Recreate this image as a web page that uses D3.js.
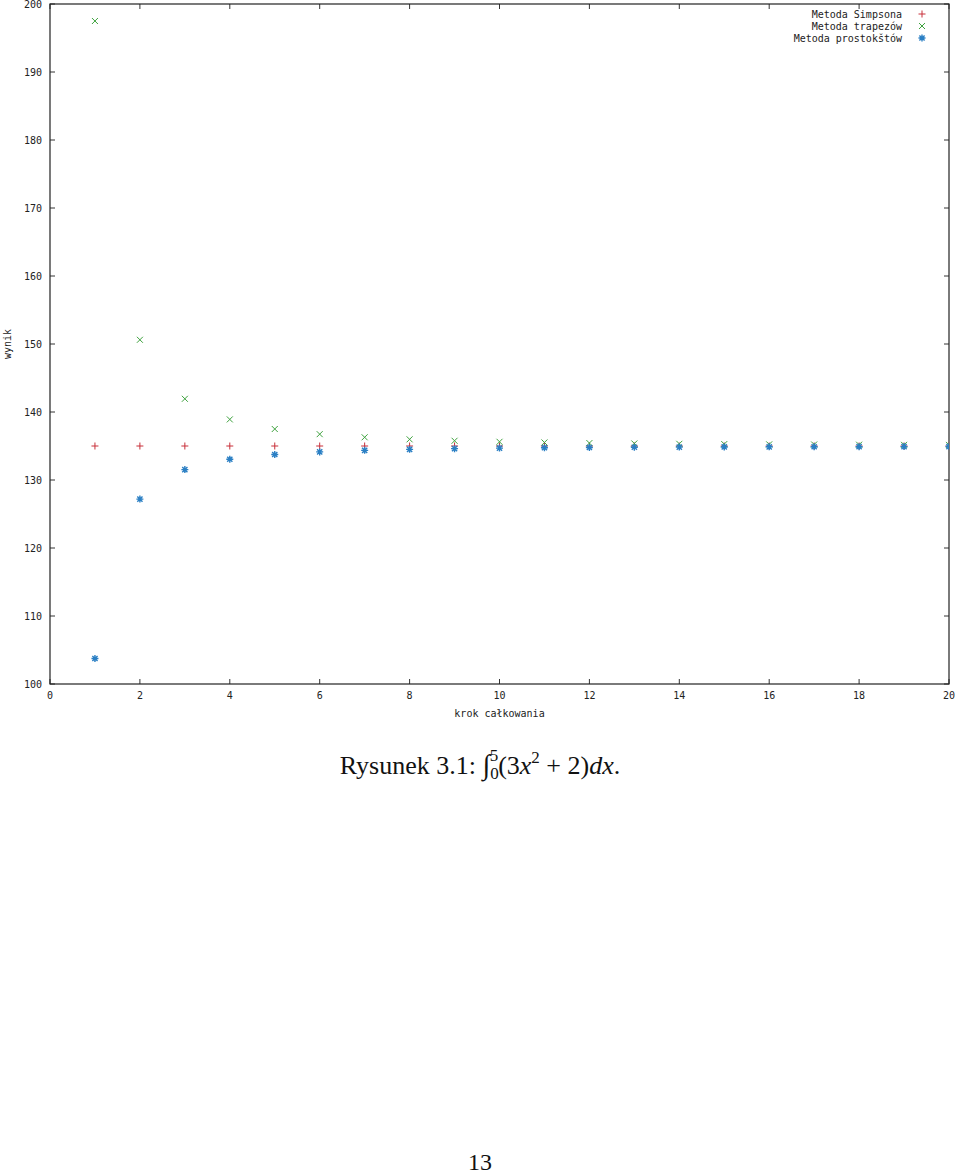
<!DOCTYPE html>
<html><head><meta charset="utf-8">
<script src="https://cdn.jsdelivr.net/npm/d3@7"></script>
<style>
body{margin:0;background:#fff;}
svg{display:block;}
.tk{font-family:"DejaVu Sans Mono",monospace;font-size:10px;fill:#222;}
.cap{font-family:"Liberation Serif","DejaVu Serif",serif;fill:#111;}
</style></head><body>
<script>
const steps = d3.range(1, 21);
const simpson = [135,135,135,135,135,135,135,135,135,135,135,135,135,135,135,135,135,135,135,135];
const trapez = [197.5,150.62,141.94,138.91,137.5,136.74,136.28,135.98,135.77,135.62,135.52,135.43,135.37,135.32,135.28,135.24,135.22,135.19,135.17,135.16];
const prostokat = [103.75,127.19,131.53,133.05,133.75,134.13,134.36,134.51,134.61,134.69,134.74,134.78,134.82,134.84,134.86,134.88,134.89,134.90,134.91,134.92];
const xTicks = [0,2,4,6,8,10,12,14,16,18,20];
const yTicks = [100,110,120,130,140,150,160,170,180,190,200];
const seriesNames = ["Metoda Simpsona","Metoda trapezów","Metoda prostokštów"];
const seriesColors = ["#c8303a","#3ea23e","#2a7fc4"];

const W=960,H=1174;
const svg=d3.select("body").append("svg").attr("width",W).attr("height",H);
const L=50,R=949,T=4,B=684;
const x=d3.scaleLinear().domain([0,20]).range([L,R]);
const y=d3.scaleLinear().domain([100,200]).range([B,T]);

svg.append("defs").append("clipPath").attr("id","c").append("rect")
  .attr("x",L).attr("y",T).attr("width",R-L).attr("height",B-T);

const g=svg.append("g");
xTicks.forEach(t=>{
  g.append("line").attr("x1",x(t)).attr("x2",x(t)).attr("y1",B).attr("y2",B-5).attr("stroke","#333");
  g.append("line").attr("x1",x(t)).attr("x2",x(t)).attr("y1",T).attr("y2",T+5).attr("stroke","#333");
  g.append("text").attr("class","tk").attr("x",x(t)).attr("y",B+15).attr("text-anchor","middle").text(t);
});
yTicks.forEach(t=>{
  g.append("line").attr("x1",L).attr("x2",L+5).attr("y1",y(t)).attr("y2",y(t)).attr("stroke","#333");
  g.append("line").attr("x1",R).attr("x2",R-5).attr("y1",y(t)).attr("y2",y(t)).attr("stroke","#333");
  g.append("text").attr("class","tk").attr("x",L-8).attr("y",y(t)+4).attr("text-anchor","end").text(t);
});
svg.append("rect").attr("x",L).attr("y",T).attr("width",R-L).attr("height",B-T)
  .attr("fill","none").attr("stroke","#222").attr("stroke-width",1.2);

svg.append("text").attr("class","tk").attr("transform",`translate(11,${(T+B)/2}) rotate(-90)`)
  .attr("text-anchor","middle").text("wynik");
svg.append("text").attr("class","tk").attr("x",(L+R)/2).attr("y",B+33)
  .attr("text-anchor","middle").text("krok całkowania");

function plus(sel,c){sel.append("path").attr("d","M-3.5,0H3.5M0,-3.5V3.5").attr("stroke",c).attr("stroke-width",1);}
function cross(sel,c){sel.append("path").attr("d","M-3,-3L3,3M-3,3L3,-3").attr("stroke",c).attr("stroke-width",1);}
function star(sel,c){sel.append("path").attr("d","M-3.5,0H3.5M0,-3.5V3.5M-2.6,-2.6L2.6,2.6M-2.6,2.6L2.6,-2.6").attr("stroke",c).attr("stroke-width",1.4);}
const makers=[plus,cross,star];
const data=[simpson,trapez,prostokat];

const pg=svg.append("g").attr("clip-path","url(#c)");
data.forEach((arr,i)=>{
  steps.forEach((s,j)=>{
    const m=pg.append("g").attr("transform",`translate(${x(s)},${y(arr[j])})`);
    makers[i](m,seriesColors[i]);
  });
});

seriesNames.forEach((n,i)=>{
  const yy=14+i*12;
  svg.append("text").attr("class","tk").attr("x",902).attr("y",yy+3.5).attr("text-anchor","end").text(n);
  const m=svg.append("g").attr("transform",`translate(922,${yy})`);
  makers[i](m,seriesColors[i]);
});

// caption
const cap=svg.append("text").attr("class","cap").attr("x",480).attr("y",774).attr("text-anchor","middle").attr("font-size",26);
cap.append("tspan").text("Rysunek 3.1: ");
cap.append("tspan").attr("font-style","italic").attr("font-size",28).text("∫");
cap.append("tspan").attr("font-size",17).attr("dy",5).text("0");
cap.append("tspan").attr("font-size",17).attr("dx",-9).attr("dy",-18).text("5");
cap.append("tspan").attr("dy",13).text("(3");
cap.append("tspan").attr("font-style","italic").text("x");
cap.append("tspan").attr("font-size",17).attr("dy",-11).text("2");
cap.append("tspan").attr("dy",11).text(" + 2)");
cap.append("tspan").attr("font-style","italic").text("dx");
cap.append("tspan").text(".");

svg.append("text").attr("class","cap").attr("x",480).attr("y",1170).attr("text-anchor","middle").attr("font-size",24).text("13");
</script>
</body></html>
